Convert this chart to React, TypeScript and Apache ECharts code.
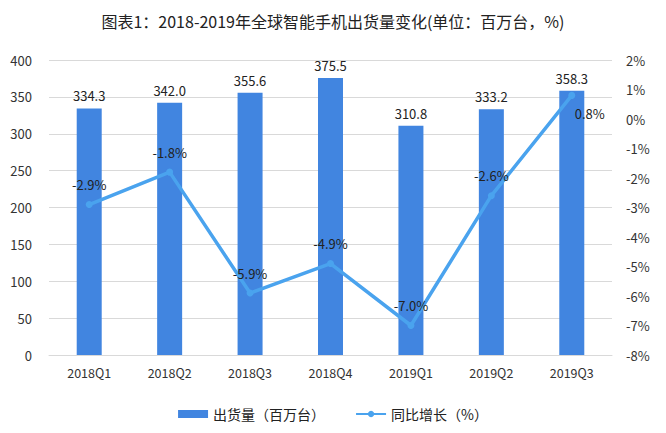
import React, { useEffect, useRef } from "react";
import * as echarts from "echarts";

const categories = ["2018Q1", "2018Q2", "2018Q3", "2018Q4", "2019Q1", "2019Q2", "2019Q3"];
const shipments = [334.3, 342.0, 355.6, 375.5, 310.8, 333.2, 358.3];
const growth = [-2.9, -1.8, -5.9, -4.9, -7.0, -2.6, 0.8];
const titleText = "图表1：2018-2019年全球智能手机出货量变化(单位：百万台，%)";
const barName = "出货量（百万台）";
const lineName = "同比增长（%）";

const FONT = "'Noto Sans CJK SC', 'Noto Sans', sans-serif";

export default function App() {
  const ref = useRef<HTMLDivElement>(null);
  useEffect(() => {
    if (!ref.current) return;
    const chart = echarts.init(ref.current, null, { renderer: "svg" });
    chart.setOption({
      animation: false,
      backgroundColor: "#ffffff",
      textStyle: { fontFamily: FONT },
      title: {
        text: titleText,
        left: "center",
        top: 8,
        textStyle: { fontSize: 16, fontWeight: "normal", color: "#222", fontFamily: FONT },
      },
      legend: {
        bottom: 7,
        left: "center",
        itemGap: 30,
        itemWidth: 30,
        itemHeight: 8,
        textStyle: { fontSize: 14, color: "#222", fontFamily: FONT },
        data: [
          { name: barName, icon: "rect" },
          { name: lineName },
        ],
      },
      grid: { left: 49, right: 54, top: 60, bottom: 78 },
      xAxis: {
        type: "category",
        data: categories,
        axisLine: { show: true, lineStyle: { color: "#d9d9d9" } },
        axisTick: { show: false },
        axisLabel: { color: "#333", fontSize: 12.5, margin: 11, fontFamily: FONT },
      },
      yAxis: [
        {
          type: "value",
          min: 0,
          max: 400,
          interval: 50,
          axisLine: { show: false },
          axisTick: { show: false },
          splitLine: { lineStyle: { color: "#d9d9d9" } },
          axisLabel: { color: "#333", fontSize: 13, margin: 17, fontFamily: FONT },
        },
        {
          type: "value",
          min: -8,
          max: 2,
          interval: 1,
          axisLine: { show: false },
          axisTick: { show: false },
          splitLine: { show: false },
          axisLabel: { color: "#333", fontSize: 13, margin: 14, formatter: "{value}%", fontFamily: FONT },
        },
      ],
      series: [
        {
          name: barName,
          type: "bar",
          data: shipments,
          barWidth: 25,
          itemStyle: { color: "#4185E0" },
          label: {
            show: true,
            position: "top",
            distance: 6,
            color: "#222",
            fontSize: 13,
            fontFamily: FONT,
            formatter: (p: any) => Number(p.value).toFixed(1),
          },
        },
        {
          name: lineName,
          type: "line",
          yAxisIndex: 1,
          data: growth.map((v, i) => ({
            value: v,
            label:
              i === growth.length - 1
                ? { position: "bottom", distance: 8, offset: [18, 0] }
                : { position: "top", distance: 10 },
          })),
          symbol: "circle",
          symbolSize: 7,
          lineStyle: { color: "#4AA3EE", width: 3.5 },
          itemStyle: { color: "#4AA3EE" },
          label: {
            show: true,
            color: "#222",
            fontSize: 13,
            fontFamily: FONT,
            formatter: (p: any) => Number(p.value).toFixed(1) + "%",
          },
          z: 5,
        },
      ],
    });
    return () => chart.dispose();
  }, []);
  return <div ref={ref} style={{ width: 666, height: 433, margin: -8 }} />;
}
